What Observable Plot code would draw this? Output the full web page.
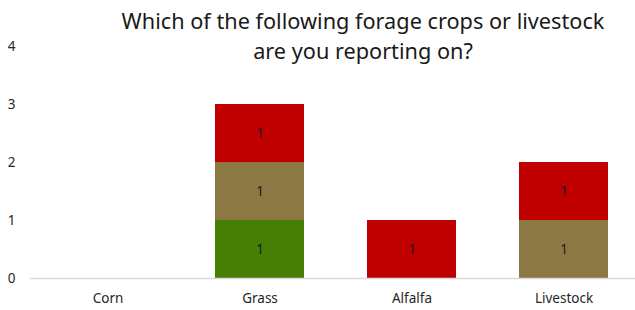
<!DOCTYPE html>
<html>
<head>
<meta charset="utf-8">
<script src="https://cdn.jsdelivr.net/npm/d3@7"></script>
<script src="https://cdn.jsdelivr.net/npm/@observablehq/plot@0.6"></script>
<style>
  html, body { margin: 0; padding: 0; background: #fff; }
  #wrap { position: relative; width: 635px; height: 310px; font-family: "Noto Sans", "Open Sans", sans-serif; }
  #title { position: absolute; left: 60px; width: 606px; top: 6px; text-align: center; font-size: 21.7px; line-height: 30px; color: #1a1a1a; }
</style>
</head>
<body>
<div id="wrap">
  <div id="chart"></div>
  <div id="title">Which of the following forage crops or livestock<br>are you reporting on?</div>
</div>
<script>
const categories = ["Corn", "Grass", "Alfalfa", "Livestock"];
const seriesNames = ["Series 1", "Series 2", "Series 3"];
const series1 = [0, 1, 0, 0];   // green (bottom)
const series2 = [0, 1, 0, 1];   // olive (middle)
const series3 = [0, 1, 1, 1];   // red (top)
const seriesColors = ["#467F04", "#8B7843", "#C00000"];
const yTicks = [0, 1, 2, 3, 4];

const allSeries = [series1, series2, series3];
const rows = [];
categories.forEach((c, i) => {
  allSeries.forEach((s, j) => {
    if (s[i] > 0) rows.push({category: c, series: seriesNames[j], value: s[i]});
  });
});

const chart = Plot.plot({
  width: 635,
  height: 310,
  marginTop: 46,
  marginBottom: 32,
  marginLeft: 30,
  marginRight: 0,
  style: {fontFamily: "'Noto Sans', 'Open Sans', sans-serif", fontSize: "13.5px", color: "#262626", background: "#fff"},
  x: {domain: categories, range: [30, 640], paddingInner: 0.415, paddingOuter: 0.2075, label: null},
  y: {domain: [0, 4], label: null},
  color: {domain: seriesNames, range: seriesColors},
  marks: [
    Plot.axisY({ticks: yTicks, tickSize: 0, tickPadding: 15, label: null, tickFormat: d => String(d)}),
    Plot.axisX({tickSize: 0, tickPadding: 15, label: null}),
    Plot.barY(rows, Plot.stackY({x: "category", y: "value", fill: "series", order: seriesNames})),
    Plot.ruleY([0], {stroke: "#d9d9d9", strokeWidth: 1.5}),
    Plot.text(rows, Plot.stackY({x: "category", y: "value", z: "series", order: seriesNames, text: d => String(d.value), fill: "#1a1a1a", fontSize: 13.5}))
  ]
});
document.getElementById("chart").appendChild(chart);
</script>
</body>
</html>
